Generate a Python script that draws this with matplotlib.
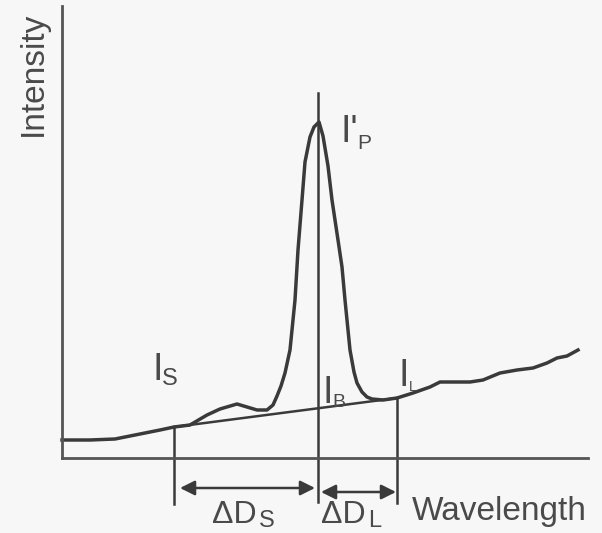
import matplotlib
matplotlib.use("Agg")
import matplotlib.pyplot as plt

# spectrum around a line: wavelength (arb.) vs intensity (arb.)
wavelength = [0, 28, 53, 78, 98, 112, 128, 145, 158, 175, 185, 195, 205, 211, 215, 219,
              223, 228, 233, 236, 240, 243, 248, 252, 257, 261, 266, 270, 276, 280, 283,
              288, 292, 295, 300, 305, 310, 321, 335, 351, 368, 378, 408, 421, 438, 455,
              471, 485, 495, 505, 516]
intensity = [18, 18, 19, 24, 28, 31, 33, 43, 49, 54, 51, 48, 48, 53, 62, 72,
             85, 108, 158, 208, 258, 296, 321, 331, 336, 322, 292, 258, 218, 191, 158,
             108, 86, 75, 66, 61, 59, 58, 60, 65, 71, 76, 76, 78, 85, 88,
             90, 95, 100, 102, 108]

# background line under the peak (from I_S point to I_L point)
bg_x = [112, 335]
bg_y = [31, 60]

# marker positions: short-side limit, peak, long-side limit
x_short, x_peak, x_long = 112, 256, 335
y_short, y_peak_top, y_long = 31, 365, 60
y_dim_low = -46
y_arrow_s, y_arrow_l = -30, -34

INK = "#3a3a3a"
TXT = "#4a4a4a"
FONT = "Liberation Sans"

fig = plt.figure(figsize=(6.02, 5.33), dpi=100, facecolor="#f7f7f7")
ax = fig.add_axes([62/602, 75/533, 526/602, 452/533])
ax.set_facecolor("none")
ax.set_xlim(0, 526); ax.set_ylim(0, 452)
for s in ("top", "right"):
    ax.spines[s].set_visible(False)
for s in ("left", "bottom"):
    ax.spines[s].set_color("#555555"); ax.spines[s].set_linewidth(2.0)
ax.set_xticks([]); ax.set_yticks([])

ax.plot(wavelength, intensity, color=INK, lw=2.5, solid_joinstyle="round", clip_on=False)
ax.plot(bg_x, bg_y, color=INK, lw=1.8)

kw = dict(color=INK, lw=1.8, clip_on=False)
ax.plot([x_short, x_short], [y_short, y_dim_low], **kw)
ax.plot([x_peak, x_peak], [y_peak_top, y_dim_low + 2], **kw)
ax.plot([x_long, x_long], [y_long, y_dim_low + 1], **kw)

arr = dict(arrowstyle="<|-|>", color=INK, lw=1.8, mutation_scale=22, shrinkA=0, shrinkB=0)
ax.annotate("", xy=(x_short + 6, y_arrow_s), xytext=(x_peak - 3, y_arrow_s),
            arrowprops=arr, annotation_clip=False)
ax.annotate("", xy=(x_peak + 3, y_arrow_l), xytext=(x_long - 1, y_arrow_l),
            arrowprops=arr, annotation_clip=False)

def lab(x, y, s, size, **k):
    ax.text(x, y, s, fontsize=size, color=TXT, family=FONT, va="baseline", ha="left",
            clip_on=False, **k)

# I_S
lab(91, 78, "I", 27); lab(100, 73, "S", 17)
# I'_P
lab(279, 316, "I'", 27); lab(295, 309, "P", 15)
# I_B
lab(260, 55, "I", 27); lab(270, 51, "B", 14)
# I_L
lab(336, 72, "I", 27); lab(347, 67, "L", 10)
# Delta D_S, Delta D_L
lab(150, -65, "ΔD", 23); lab(197, -69, "S", 17)
lab(259, -65, "ΔD", 23); lab(306, -69, "L", 17)

lab(350, -62, "Wavelength", 24)
fig.text(33/602, 1 - 74/533, "Intensity", rotation=90, fontsize=24, color=TXT,
         family=FONT, ha="center", va="center")

fig.savefig("out.png", dpi=100, facecolor=fig.get_facecolor())
